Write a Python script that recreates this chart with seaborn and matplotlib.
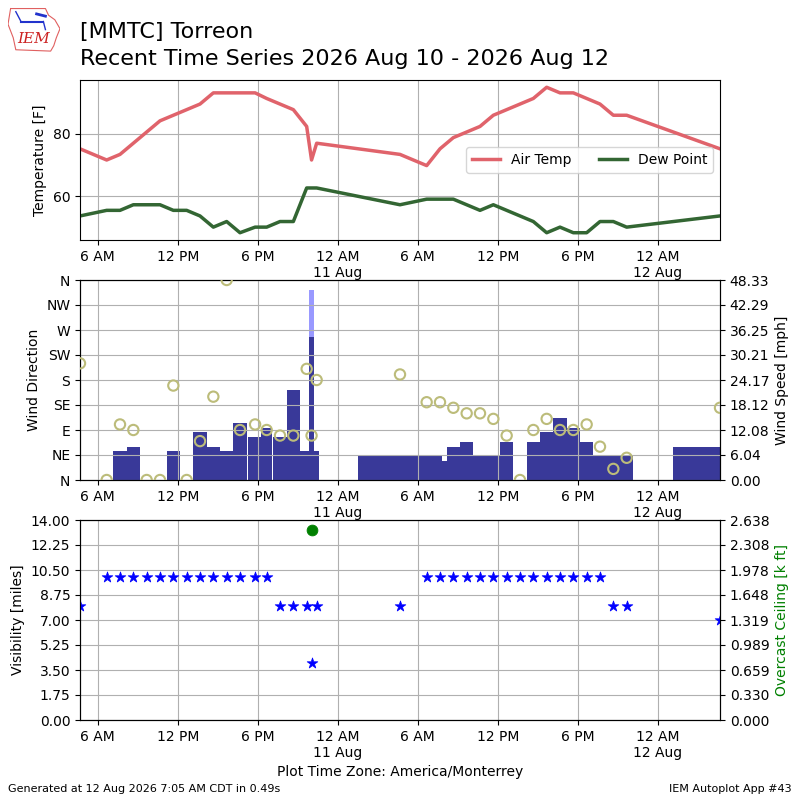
import matplotlib
matplotlib.use("Agg")
from matplotlib import pyplot as plt
import matplotlib.dates as mdates
from matplotlib.ticker import FuncFormatter, MultipleLocator
import numpy as np
import pandas as pd
import seaborn as sns

# observation times (local, America/Monterrey)
obs_times = ["2026-08-10 04:40", "2026-08-10 06:40", "2026-08-10 07:40",
             "2026-08-10 08:40", "2026-08-10 09:40", "2026-08-10 10:40",
             "2026-08-10 11:40", "2026-08-10 12:40", "2026-08-10 13:40",
             "2026-08-10 14:40", "2026-08-10 15:40", "2026-08-10 16:40",
             "2026-08-10 17:48", "2026-08-10 18:40", "2026-08-10 19:40",
             "2026-08-10 20:40", "2026-08-10 21:40", "2026-08-10 22:02",
             "2026-08-10 22:25", "2026-08-11 04:40", "2026-08-11 06:40",
             "2026-08-11 07:40", "2026-08-11 08:40", "2026-08-11 09:40",
             "2026-08-11 10:40", "2026-08-11 11:40", "2026-08-11 12:40",
             "2026-08-11 13:40", "2026-08-11 14:40", "2026-08-11 15:40",
             "2026-08-11 16:40", "2026-08-11 17:40", "2026-08-11 18:40",
             "2026-08-11 19:40", "2026-08-11 20:40", "2026-08-11 21:40",
             "2026-08-12 04:40"]

air_temp = [75.2, 71.6, 73.4, 77.0, 80.6, 84.2, 86.0, 87.8, 89.6, 93.2, 93.2,
            93.2, 93.2, 91.4, 89.6, 87.8, 82.4, 71.6, 77.0, 73.4, 69.8, 75.2,
            78.8, 80.6, 82.4, 86.0, 87.8, 89.6, 91.4, 95.0, 93.2, 93.2, 91.4,
            89.6, 86.0, 86.0, 75.2]

dew_point = [53.6, 55.4, 55.4, 57.2, 57.2, 57.2, 55.4, 55.4, 53.6, 50.0, 51.8,
             48.2, 50.0, 50.0, 51.8, 51.8, 62.6, 62.6, 62.6, 57.2, 59.0, 59.0,
             59.0, 57.2, 55.4, 57.2, 55.4, 53.6, 51.8, 48.2, 50.0, 48.2, 48.2,
             51.8, 51.8, 50.0, 53.6]

wind_dir = [210, 0, 100, 90, 0, 0, 170, 0, 70, 150, 360, 90, 100, 90, 80, 80,
            200, 80, 180, 190, 140, 140, 130, 120, 120, 110, 80, 0, 90, 110,
            90, 90, 100, 60, 20, 40, 130]

# mph
wind_speed = [np.nan, 0, 6.90, 8.06, 0, 0, 6.90, 0, 11.51, 8.06, 6.90, 13.81,
              10.36, 12.66, 10.36, 21.86, 6.90, 34.52, 6.90, 5.75, 5.75, 4.60,
              8.06, 9.21, 5.75, 5.75, 9.21, 0, 9.21, 11.51, 14.96, 12.66,
              9.21, 5.75, 5.75, 5.75, 8.06]

wind_gust = [np.nan] * 17 + [46.03] + [np.nan] * 19

visibility = [8, 10, 10, 10, 10, 10, 10, 10, 10, 10, 10, 10, 10, 10, 8, 8, 8,
              4, 8, 8, 10, 10, 10, 10, 10, 10, 10, 10, 10, 10, 10, 10, 10, 10,
              8, 8, 7]

# k ft
ceiling = [np.nan] * 17 + [2.5] + [np.nan] * 19

dir_labels = ["N", "NE", "E", "SE", "S", "SW", "W", "NW", "N"]


def fmt_time(x, pos=None):
    dt = mdates.num2date(x)
    hour = dt.hour % 12 or 12
    label = f"{hour} {'AM' if dt.hour < 12 else 'PM'}"
    if dt.hour == 0:
        label += f"\n{dt.day} {dt:%b}"
    return label


def _set_time_axis(ax, times):
    ax.set_xlim(times[0], times[-1])
    ax.xaxis.set_major_locator(mdates.HourLocator(byhour=[0, 6, 12, 18]))
    ax.xaxis.set_major_formatter(FuncFormatter(fmt_time))
    ax.set_xlabel("")


times = pd.to_datetime(obs_times)
tnum = mdates.date2num(times)
widths = np.diff(tnum, prepend=np.nan)
widths[0] = 1 / 24.0

fig = plt.figure(figsize=(8, 8), dpi=100)

# ----- teplota -----
ax1 = fig.add_axes([0.1, 0.70, 0.8, 0.20])
sns.lineplot(x=times, y=air_temp, ax=ax1, color="#e0636b", lw=2.5,
             label="Air Temp")
sns.lineplot(x=times, y=dew_point, ax=ax1, color="#336633", lw=2.5,
             label="Dew Point")
ax1.legend(loc="center right", ncol=2)
ax1.set_ylabel("Temperature [F]")
ax1.yaxis.set_major_locator(MultipleLocator(20))
ax1.grid(True)
_set_time_axis(ax1, times)

# ----- vitr -----
ax2 = fig.add_axes([0.1, 0.40, 0.8, 0.25])
ax2b = ax2.twinx()
sns.scatterplot(x=times, y=wind_dir, ax=ax2, marker="o", s=55,
                facecolor="none", edgecolor="#bcbc7a", linewidth=1.5,
                zorder=3)
ax2b.bar(tnum, wind_gust, width=widths, color="#9999ff")
ax2b.bar(tnum, wind_speed, width=widths, color="#393999")
ax2.set_zorder(ax2b.get_zorder() + 1)
ax2.patch.set_visible(False)
ax2.set_ylim(0, 360)
ax2.set_yticks(np.arange(0, 361, 45))
ax2.set_yticklabels(dir_labels)
ax2.set_ylabel("Wind Direction")
ax2.grid(True)
wmax = np.nanmax(wind_gust) * 1.05
ax2b.set_ylim(0, wmax)
ax2b.set_yticks(np.linspace(0, wmax, 9))
ax2b.yaxis.set_major_formatter(FuncFormatter(lambda v, p: f"{v:.2f}"))
ax2b.set_ylabel("Wind Speed [mph]")
_set_time_axis(ax2, times)

# ----- viditelnost -----
ax3 = fig.add_axes([0.1, 0.10, 0.8, 0.25])
sns.scatterplot(x=times, y=visibility, ax=ax3, marker="*", s=65,
                color="b", edgecolor="b", linewidth=0.5, zorder=3)
ax3.set_ylim(0, 14)
ax3.set_yticks(np.linspace(0, 14, 9))
ax3.yaxis.set_major_formatter(FuncFormatter(lambda v, p: f"{v:.2f}"))
ax3.set_ylabel("Visibility [miles]")
ax3.grid(True)
ax3b = ax3.twinx()
sns.scatterplot(x=times, y=ceiling, ax=ax3b, color="g", s=60,
                edgecolor="g", zorder=3)
cmax = 2.63755
ax3b.set_ylim(0, cmax)
ax3b.set_yticks(np.linspace(0, cmax, 9))
ax3b.yaxis.set_major_formatter(FuncFormatter(lambda v, p: f"{v:.3f}"))
ax3b.set_ylabel("Overcast Ceiling [k ft]", color="g")
_set_time_axis(ax3, times)
ax3.set_xlabel("Plot Time Zone: America/Monterrey")

# ----- logo -----
logo = fig.add_axes([0.01, 0.935, 0.065, 0.056])
logo.set_xlim(0, 1)
logo.set_ylim(0, 1)
logo.axis("off")
outline_x = [0.05, 0.72, 0.78, 0.9, 1.0, 0.93, 0.88, 0.82, 0.15, 0.1, 0.0,
             0.05]
outline_y = [0.97, 0.97, 0.82, 0.72, 0.52, 0.32, 0.14, 0.02, 0.05, 0.32,
             0.62, 0.97]
logo.plot(outline_x, outline_y, color="#e06060", lw=0.8)
logo.plot([0.25, 0.68], [0.68, 0.68], color="#2233cc", lw=1.5)
logo.plot([0.15, 0.25], [0.9, 0.68], color="#2233cc", lw=1.0)
logo.plot([0.55, 0.72], [0.85, 0.8], color="#2233cc", lw=2.0)
logo.plot([0.68, 0.72], [0.68, 0.5], color="#2233cc", lw=1.0)
logo.text(0.5, 0.28, "IEM", color="#cc2222", fontsize=11, style="italic",
          family="serif", ha="center", va="center")

# ----- texty -----
fig.text(0.1, 0.953, "[MMTC] Torreon", fontsize=16, va="baseline")
fig.text(0.1, 0.919, "Recent Time Series 2026 Aug 10 - 2026 Aug 12",
         fontsize=16, va="baseline")
fig.text(0.01, 0.008, "Generated at 12 Aug 2026 7:05 AM CDT in 0.49s",
         fontsize=8, va="bottom")
fig.text(0.99, 0.008, "IEM Autoplot App #43", fontsize=8, ha="right",
         va="bottom")

fig.savefig("out.png", dpi=100)
